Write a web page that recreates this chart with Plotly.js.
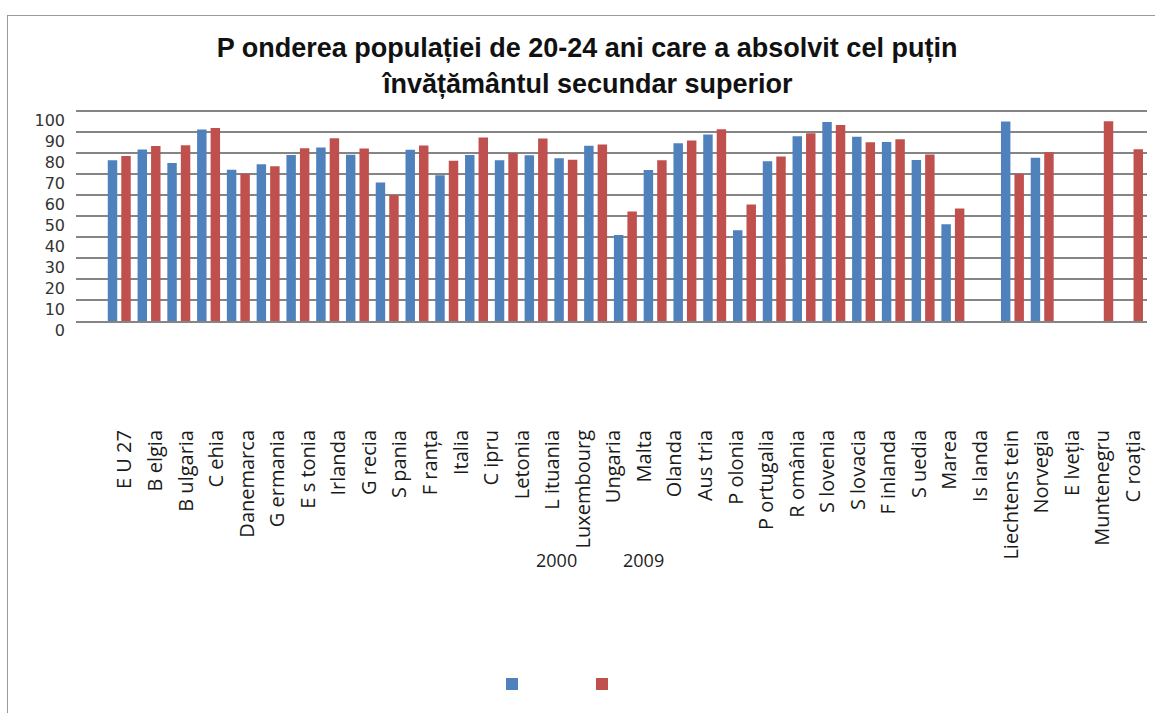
<!DOCTYPE html>
<html>
<head>
<meta charset="utf-8">
<script src="https://cdn.plot.ly/plotly-3.0.1.min.js"></script>
<style>
html,body{margin:0;padding:0;background:#fff;}
#chart{width:1155px;height:713px;position:absolute;left:0;top:0;}
#frame{position:absolute;left:7px;top:15px;width:1170px;height:720px;border:1.5px solid #9a9a9a;pointer-events:none;}
</style>
</head>
<body>
<div id="chart"></div>
<div id="frame"></div>
<script>
// Bar slots (35 groups drawn in the chart)
const barCategories = ["EU 27","Belgia","Bulgaria","Cehia","Danemarca","Germania","Estonia","Irlanda","Grecia","Spania","Franța","Italia","Cipru","Letonia","Lituania","Luxembourg","Ungaria","Malta","Olanda","Austria","Polonia","Portugalia","România","Slovenia","Slovacia","Finlanda","Suedia","Marea Britanie","Islanda","Liechtenstein","Norvegia","Elveția","Muntenegru","Croația","Macedonia"];
// Visible category labels (34, as printed)
const tickLabels = ["E U 27","B elgia","B ulgaria","C ehia","Danemarca","G ermania","E s tonia","Irlanda","G recia","S pania","F ranța","Italia","C ipru","Letonia","L ituania","Luxembourg","Ungaria","Malta","Olanda","Aus tria","P olonia","P ortugalia","R omânia","S lovenia","S lovacia","F inlanda","S uedia","Marea","Is landa","Liechtens tein","Norvegia","E lveția","Muntenegru","C roația"];
const seriesNames = ["2000","2009"];
const values2000 = [76.6,81.7,75.2,91.2,72.0,74.7,79.0,82.6,79.2,66.0,81.6,69.4,79.0,76.5,78.9,77.5,83.5,40.9,71.9,84.7,88.8,43.2,76.1,88.0,94.8,87.7,85.2,76.7,46.1,null,95.0,77.7,null,null,null];
const values2009 = [78.6,83.3,83.7,91.9,70.1,73.7,82.3,87.0,82.2,59.9,83.6,76.3,87.4,80.0,86.9,76.8,84.0,52.1,76.6,86.0,91.3,55.5,78.3,89.4,93.3,85.1,86.5,79.3,53.6,null,70.1,80.4,null,95.1,81.8];
const yTicks = [0,10,20,30,40,50,60,70,80,90,100];
const titleLines = ["P onderea populației de 20-24 ani care a absolvit cel puțin","învățământul secundar superior"];
const colors = ["#4F81BD","#C0504D"];

const titleFont = {family:"Liberation Sans, Arial", size:27, color:"#111"};
const plotTop = 110, plotBottom = 321, plotLeft = 76, plotRight = 1147;
const pxX = px => (px-plotLeft)/(plotRight-plotLeft);
const pxY = py => (plotBottom-py)/(plotBottom-plotTop);

const traces = [
  {type:"bar", x:barCategories, y:values2000, name:seriesNames[0], marker:{color:colors[0]}, showlegend:false, xaxis:"x", yaxis:"y"},
  {type:"bar", x:barCategories, y:values2009, name:seriesNames[1], marker:{color:colors[1]}, showlegend:false, xaxis:"x", yaxis:"y"},
  // carrier for the printed category labels
  {type:"scatter", mode:"markers", x:tickLabels, y:tickLabels.map(()=>null), xaxis:"x2", yaxis:"y", showlegend:false, hoverinfo:"skip"},
  // legend keys (names not printed beside keys in the original)
  {type:"bar", x:[null], y:[null], name:" ", marker:{color:colors[0]}, xaxis:"x2", yaxis:"y", showlegend:true, hoverinfo:"skip"},
  {type:"bar", x:[null], y:[null], name:" ", marker:{color:colors[1]}, xaxis:"x2", yaxis:"y", showlegend:true, hoverinfo:"skip"}
];

const layout = {
  width:1155, height:713,
  paper_bgcolor:"rgba(0,0,0,0)", plot_bgcolor:"rgba(0,0,0,0)",
  margin:{l:plotLeft, r:1155-plotRight, t:plotTop, b:713-plotBottom, autoexpand:false},
  barmode:"group", bargap:0.093, bargroupgap:0.30,
  title:{
    text:"<b>"+titleLines[0]+"</b>",
    font:titleFont,
    x:587/1155, xanchor:"center", xref:"container",
    y:1-48/713, yanchor:"middle", yref:"container"
  },
  xaxis:{
    type:"category", range:[-1.453, 34.52], showticklabels:false, ticks:"",
    showgrid:false, zeroline:false, showline:true, linecolor:"#858585", linewidth:1.8,
    fixedrange:true
  },
  xaxis2:{
    type:"category", overlaying:"x", anchor:"y", side:"bottom",
    categoryorder:"array", categoryarray:tickLabels,
    range:[-1.6, 33.45], tickangle:-90, ticks:"", showgrid:false, zeroline:false, showline:false,
    ticklabelstandoff:104,
    tickfont:{family:"Open Sans", size:20, color:"#1a1a1a"},
    fixedrange:true
  },
  yaxis:{
    range:[0,100.48], tickmode:"array", tickvals:yTicks, ticks:"",
    showgrid:true, gridcolor:"#858585", gridwidth:1.8, zeroline:false, showline:false,
    ticklabelshift:9, ticklabelstandoff:10,
    tickfont:{family:"DejaVu Sans", size:16, color:"#333"},
    fixedrange:true
  },
  legend:{
    orientation:"h", x:pxX(492), xanchor:"left", y:pxY(684), yanchor:"middle",
    entrywidth:45, entrywidthmode:"pixels", bgcolor:"rgba(0,0,0,0)",
    font:{family:"DejaVu Sans", size:12}
  },
  annotations:[
    {text:"<b>"+titleLines[1]+"</b>", xref:"paper", yref:"paper", x:pxX(587), y:pxY(84), showarrow:false, xanchor:"center", yanchor:"middle", font:titleFont},
    {text:seriesNames[0], xref:"paper", yref:"paper", x:pxX(556.5), y:pxY(559.5), showarrow:false, xanchor:"center", yanchor:"middle", font:{family:"Open Sans", size:18, color:"#222"}},
    {text:seriesNames[1], xref:"paper", yref:"paper", x:pxX(643.5), y:pxY(559.5), showarrow:false, xanchor:"center", yanchor:"middle", font:{family:"Open Sans", size:18, color:"#222"}}
  ]
};

Plotly.newPlot("chart", traces, layout, {displayModeBar:false, staticPlot:true});
</script>
</body>
</html>
